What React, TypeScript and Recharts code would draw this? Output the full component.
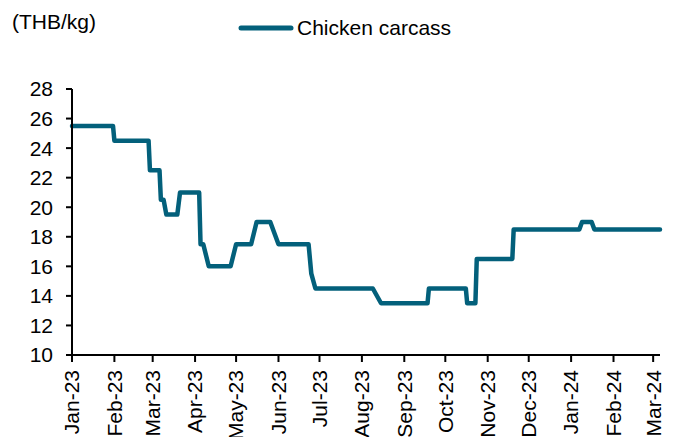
import { Line, LineChart, XAxis, YAxis } from "recharts";

// Weekly-ish carcass price points (THB/kg); steps are listed as the
// last day at the old price and the first day at the new price.
const priceDates = [
  "2023-01-01", "2023-01-31", "2023-02-01", "2023-02-26", "2023-02-27",
  "2023-03-06", "2023-03-07", "2023-03-09", "2023-03-11", "2023-03-19",
  "2023-03-21", "2023-04-04", "2023-04-05", "2023-04-07", "2023-04-11",
  "2023-04-27", "2023-05-01", "2023-05-12", "2023-05-16", "2023-05-26",
  "2023-06-01", "2023-06-23", "2023-06-25", "2023-06-28", "2023-08-09",
  "2023-08-15", "2023-09-18", "2023-09-19", "2023-10-16", "2023-10-17",
  "2023-10-23", "2023-10-24", "2023-11-19", "2023-11-20", "2024-01-07",
  "2024-01-09", "2024-01-16", "2024-01-18", "2024-03-06",
];

const carcassPrices = [
  25.5, 25.5, 24.5, 24.5, 22.5,
  22.5, 20.5, 20.5, 19.5, 19.5,
  21, 21, 17.5, 17.5, 16,
  16, 17.5, 17.5, 19, 19,
  17.5, 17.5, 15.5, 14.5, 14.5,
  13.5, 13.5, 14.5, 14.5, 13.5,
  13.5, 16.5, 16.5, 18.5, 18.5,
  19, 19, 18.5, 18.5,
];

const monthStarts = [
  "2023-01-01", "2023-02-01", "2023-03-01", "2023-04-01", "2023-05-01",
  "2023-06-01", "2023-07-01", "2023-08-01", "2023-09-01", "2023-10-01",
  "2023-11-01", "2023-12-01", "2024-01-01", "2024-02-01", "2024-03-01",
];

const monthLabels = [
  "Jan-23", "Feb-23", "Mar-23", "Apr-23", "May-23",
  "Jun-23", "Jul-23", "Aug-23", "Sep-23", "Oct-23",
  "Nov-23", "Dec-23", "Jan-24", "Feb-24", "Mar-24",
];

const priceTicks = [10, 12, 14, 16, 18, 20, 22, 24, 26, 28];

const toTime = (d: string) => Date.parse(d + "T00:00:00Z");

const data = priceDates.map((d, i) => ({ t: toTime(d), price: carcassPrices[i] }));
const tickTimes = monthStarts.map(toTime);

const LINE_COLOR = "#03607b";
const FONT = "'Liberation Sans', Arial, sans-serif";

function MonthTick({ x, y, payload }: any) {
  const label = monthLabels[tickTimes.indexOf(payload.value)];
  return (
    <text
      x={x}
      y={y}
      dy="0.35em"
      transform={`rotate(-90, ${x}, ${y})`}
      textAnchor="end"
      fontSize={21}
      fontFamily={FONT}
      fill="#000"
    >
      {label}
    </text>
  );
}

export default function App() {
  return (
    <div style={{ position: "fixed", top: 0, left: 0, width: 673, height: 437, background: "#fff" }}>
      <LineChart
        width={673}
        height={437}
        data={data}
        margin={{ top: 89, right: 13, bottom: 0, left: 0 }}
      >
        <XAxis
          dataKey="t"
          type="number"
          domain={[toTime("2023-01-01"), toTime("2024-03-06")]}
          ticks={tickTimes}
          interval={0}
          height={82}
          tickSize={7}
          tickMargin={8}
          tick={<MonthTick />}
          axisLine={{ stroke: "#000", strokeWidth: 2 }}
          tickLine={{ stroke: "#000", strokeWidth: 2 }}
        />
        <YAxis
          type="number"
          domain={[10, 28]}
          ticks={priceTicks}
          interval={0}
          width={72}
          tickSize={6}
          tickMargin={13}
          tick={{ fill: "#000", fontSize: 21, fontFamily: FONT }}
          axisLine={{ stroke: "#000", strokeWidth: 2 }}
          tickLine={{ stroke: "#000", strokeWidth: 2 }}
        />
        <Line
          type="linear"
          dataKey="price"
          stroke={LINE_COLOR}
          strokeWidth={4.5}
          strokeLinejoin="round"
          strokeLinecap="round"
          dot={false}
          activeDot={false}
          isAnimationActive={false}
        />
      </LineChart>
      <svg
        width={673}
        height={60}
        style={{ position: "absolute", top: 0, left: 0, pointerEvents: "none" }}
      >
        <text x={12} y={29} fontSize={21} fontFamily={FONT} fill="#000">
          (THB/kg)
        </text>
        <line x1={241} y1={28} x2={291} y2={28} stroke={LINE_COLOR} strokeWidth={5} strokeLinecap="round" />
        <text x={297} y={35} fontSize={21} fontFamily={FONT} fill="#000">
          Chicken carcass
        </text>
      </svg>
    </div>
  );
}
